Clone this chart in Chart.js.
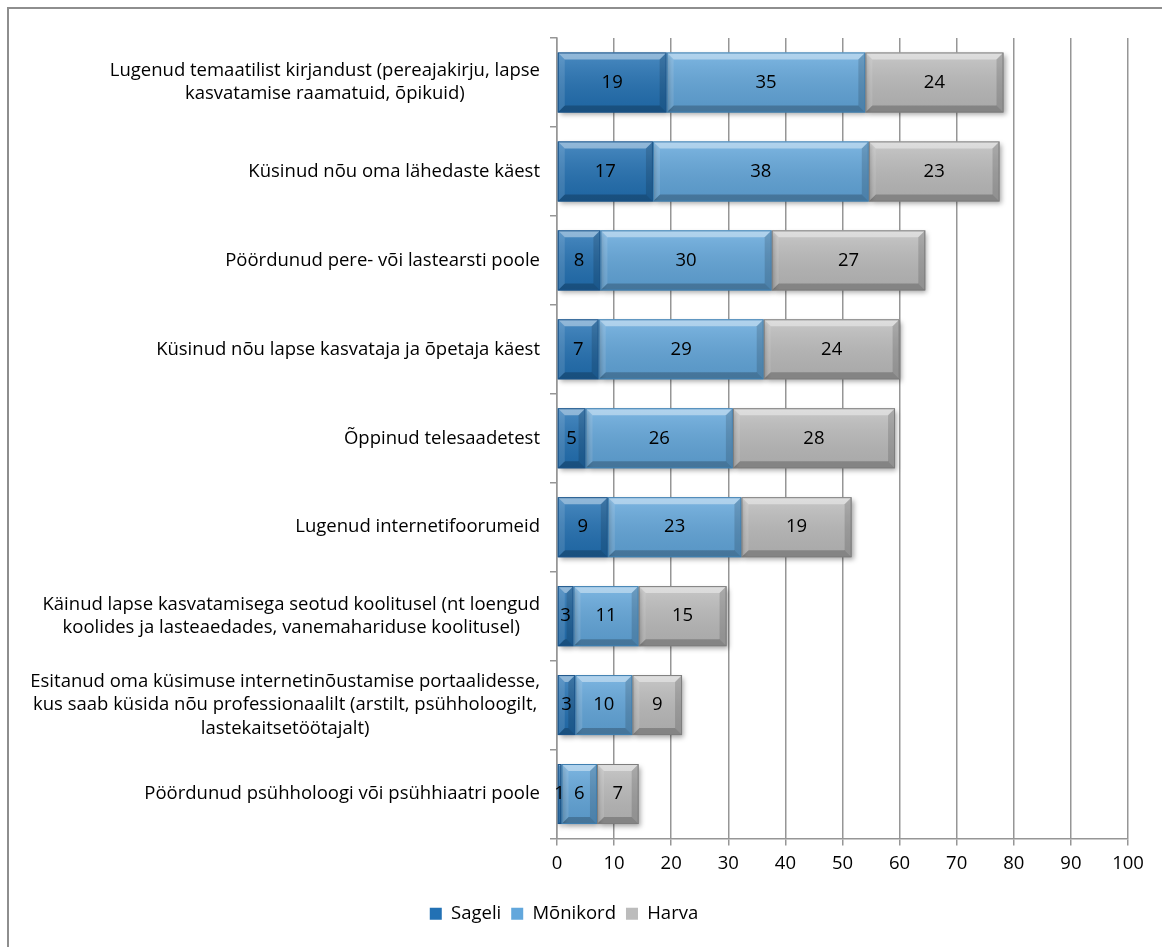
<!DOCTYPE html>
<html>
<head>
<meta charset="utf-8">
<script src="https://cdn.jsdelivr.net/npm/chart.js@4.4.1/dist/chart.umd.min.js"></script>
<style>
  html, body { margin: 0; padding: 0; background: #fff; }
  #frame { position: absolute; left: 7px; top: 7px; width: 1200px; height: 1000px;
           border-left: 2px solid #8e8e8e; border-top: 2px solid #8e8e8e; }
  #wrap  { position: absolute; left: 0; top: 0; width: 1162px; height: 947px; }
</style>
</head>
<body>
<div id="frame"></div>
<div id="wrap"><canvas id="chart" width="1162" height="947"></canvas></div>
<script>
const categories = [
  ["Lugenud temaatilist kirjandust (pereajakirju, lapse", "kasvatamise raamatuid, õpikuid)"],
  ["Küsinud nõu oma lähedaste käest"],
  ["Pöördunud pere- või lastearsti poole"],
  ["Küsinud nõu lapse kasvataja ja õpetaja käest"],
  ["Õppinud telesaadetest"],
  ["Lugenud internetifoorumeid"],
  ["Käinud lapse kasvatamisega seotud koolitusel (nt loengud", "koolides ja lasteaedades, vanemahariduse koolitusel)"],
  ["Esitanud oma küsimuse internetinõustamise portaalidesse,", "kus saab küsida nõu professionaalilt (arstilt, psühholoogilt,", "lastekaitsetöötajalt)"],
  ["Pöördunud psühholoogi või psühhiaatri poole"],
];
const seriesNames = ["Sageli", "Mõnikord", "Harva"];
const sageli   = [19.2, 16.8, 7.6, 7.3, 5.0, 8.9, 2.9, 3.2, 0.8];
const monikord = [34.8, 37.8, 30.0, 28.9, 25.8, 23.4, 11.4, 10.0, 6.2];
const harva    = [24.2, 22.9, 26.9, 23.8, 28.4, 19.3, 15.4, 8.7, 7.3];
const xTicks   = [0, 10, 20, 30, 40, 50, 60, 70, 80, 90, 100];

const FONT_FAMILY = "'Open Sans', sans-serif";
const FONT_SIZE   = 18.5;
const LINE_H      = 23.5;

const FACE  = ["#2271b4", "#62a7dc", "#bcbcbc"];
const EDGE  = ["#1b5388", "#3f7fb0", "#7d7d7d"];

// category labels: block right-aligned at the axis, lines centred inside the block
const yLabels = {
  id: "yLabels",
  afterDraw(chart) {
    const sc = chart.scales.y, ctx = chart.ctx;
    ctx.save();
    ctx.font = `${FONT_SIZE}px ${FONT_FAMILY}`;
    ctx.fillStyle = "#000";
    ctx.textAlign = "center";
    ctx.textBaseline = "middle";
    categories.forEach((lines, i) => {
      const w  = Math.max(...lines.map(l => ctx.measureText(l).width));
      const cx = sc.right - 17 - w / 2;
      const y0 = sc.getPixelForTick(i) - (lines.length - 1) * LINE_H / 2;
      lines.forEach((l, j) => ctx.fillText(l, cx, y0 + j * LINE_H));
    });
    ctx.restore();
  },
};

// soft shadow under the bars
const barShadow = {
  id: "barShadow",
  beforeDatasetDraw(chart) {
    const ctx = chart.ctx;
    ctx.save();
    ctx.shadowColor = "rgba(0,0,0,0.35)";
    ctx.shadowBlur = 5;
    ctx.shadowOffsetX = 2;
    ctx.shadowOffsetY = 3;
  },
  afterDatasetDraw(chart) { chart.ctx.restore(); },
};

// bevel look + value labels
const bevel = {
  id: "bevel",
  afterDatasetsDraw(chart) {
    const ctx = chart.ctx;
    ctx.save();
    chart.data.datasets.forEach((ds, di) => {
      const meta = chart.getDatasetMeta(di);
      meta.data.forEach((el, i) => {
        const p = el.getProps(["x", "y", "base", "height"], true);
        const l = Math.min(p.x, p.base), r = Math.max(p.x, p.base);
        const t = p.y - p.height / 2, b = p.y + p.height / 2;
        const bw = Math.min(7, (r - l) / 2);
        const poly = (pts, fill) => {
          ctx.beginPath();
          ctx.moveTo(pts[0][0], pts[0][1]);
          pts.slice(1).forEach(q => ctx.lineTo(q[0], q[1]));
          ctx.closePath();
          ctx.fillStyle = fill;
          ctx.fill();
        };
        const g = ctx.createLinearGradient(0, t, 0, b);
        g.addColorStop(0, "rgba(255,255,255,0.18)");
        g.addColorStop(1, "rgba(0,0,0,0.10)");
        ctx.fillStyle = g;
        ctx.fillRect(l, t, r - l, b - t);
        poly([[l, t], [r, t], [r - bw, t + bw], [l + bw, t + bw]], "rgba(255,255,255,0.40)");
        poly([[l, b], [r, b], [r - bw, b - bw], [l + bw, b - bw]], "rgba(0,0,0,0.22)");
        poly([[l, t], [l + bw, t + bw], [l + bw, b - bw], [l, b]], "rgba(255,255,255,0.12)");
        poly([[r, t], [r - bw, t + bw], [r - bw, b - bw], [r, b]], "rgba(0,0,0,0.14)");
        ctx.strokeStyle = EDGE[di];
        ctx.lineWidth = 1;
        ctx.strokeRect(l + 0.5, t + 0.5, r - l - 1, b - t - 1);

        ctx.font = `${FONT_SIZE}px ${FONT_FAMILY}`;
        ctx.fillStyle = "#000";
        ctx.textAlign = "center";
        ctx.textBaseline = "middle";
        ctx.fillText(String(Math.round(ds.data[i])), (l + r) / 2, p.y);
      });
    });
    ctx.restore();
  },
};

Chart.defaults.font.family = FONT_FAMILY;
Chart.defaults.font.size = FONT_SIZE;
Chart.defaults.color = "#000";

new Chart(document.getElementById("chart"), {
  type: "bar",
  data: {
    labels: categories,
    datasets: [
      { label: seriesNames[0], data: sageli,   backgroundColor: FACE[0] },
      { label: seriesNames[1], data: monikord, backgroundColor: FACE[1] },
      { label: seriesNames[2], data: harva,    backgroundColor: FACE[2] },
    ],
  },
  options: {
    indexAxis: "y",
    responsive: false,
    animation: false,
    events: [],
    categoryPercentage: 1,
    barPercentage: 0.675,
    layout: { padding: { top: 38, right: 34, left: 0, bottom: 14 } },
    plugins: {
      tooltip: { enabled: false },
      legend: {
        position: "bottom",
        labels: {
          boxWidth: 12, boxHeight: 12, padding: 10,
          font: { size: FONT_SIZE, family: FONT_FAMILY },
        },
      },
    },
    scales: {
      x: {
        stacked: true,
        min: 0, max: 100,
        afterBuildTicks: sc => { sc.ticks = xTicks.map(v => ({ value: v })); },
        afterFit: sc => { sc.height = 56; },
        grid: { color: "#969696", lineWidth: 1.5, tickLength: 7 },
        border: { color: "#969696", width: 1.5 },
        ticks: { padding: 7, maxRotation: 0 },
      },
      y: {
        stacked: true,
        afterFit: sc => { sc.width = 557; },
        grid: { drawOnChartArea: false, color: "#969696", lineWidth: 1.5, tickLength: 7 },
        border: { color: "#969696", width: 1.5 },
        ticks: { display: false },
      },
    },
  },
  plugins: [yLabels, barShadow, bevel],
});
</script>
</body>
</html>
